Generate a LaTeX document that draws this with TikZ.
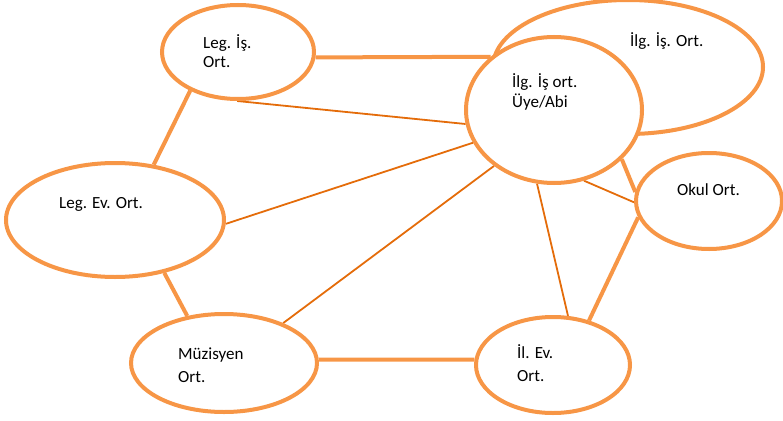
\documentclass[tikz,border=0pt]{standalone}
\usepackage{fontspec}
\setmainfont{Carlito}
\usetikzlibrary{shapes.geometric,backgrounds}
\definecolor{lightor}{HTML}{F79646}
\definecolor{darkor}{HTML}{E46C0A}
\tikzset{
  oval/.style={ellipse, draw=lightor, line width=4pt, fill=white, inner sep=0pt},
  thickline/.style={draw=lightor, line width=4pt},
  thinline/.style={draw=darkor, line width=1.8pt},
  lbl/.style={anchor=base west, align=left, inner sep=0pt, text=black}
}
\begin{document}
\begin{tikzpicture}[x=1pt,y=-1pt]
\useasboundingbox (0,0) rectangle (783,420);
% ellipses
\node[oval, minimum width=270pt, minimum height=134pt] (ilgis) at (628,67) {};
\node[oval, minimum width=176pt, minimum height=146pt] (uye) at (554,110) {};
\node[oval, minimum width=152pt, minimum height=94pt] (legis) at (238,52) {};
\node[oval, minimum width=146pt, minimum height=96pt] (okul) at (709,201) {};
\node[oval, minimum width=218pt, minimum height=114pt] (legev) at (115,220) {};
\node[oval, minimum width=186pt, minimum height=98pt] (muz) at (224,363) {};
\node[oval, minimum width=154pt, minimum height=96pt] (ilev) at (553,365) {};
% texts (anchor = baseline of last line)
\node[lbl, font=\fontsize{17}{19}\selectfont] (legis-t) at (203,67) {Leg. İş.\\Ort.};
\node[lbl, font=\fontsize{17}{20}\selectfont] (ilgis-t) at (630,47) {İlg. İş. Ort.};
\node[lbl, font=\fontsize{17}{20}\selectfont] (uye-t) at (512,107) {İlg. İş ort.\\Üye/Abi};
\node[lbl, font=\fontsize{17}{20}\selectfont] (okul-t) at (677,195) {Okul Ort.};
\node[lbl, font=\fontsize{17}{20}\selectfont] (legev-t) at (59,208) {Leg. Ev. Ort.};
\node[lbl, font=\fontsize{17}{23}\selectfont] (muz-t) at (178,382) {Müzisyen\\Ort.};
\node[lbl, font=\fontsize{17}{23}\selectfont] (ilev-t) at (517,381) {İl. Ev.\\Ort.};
% connectors
\begin{scope}[on background layer]
\draw[thickline] (legis.-4.5) -- (uye.140);
\draw[thickline] (legis.219.6) -- (legev.55.4);
\draw[thickline] (legev.-47.3) -- (muz.128.8);
\draw[thickline] (muz.2) -- (ilev.176);
\draw[thickline] (ilev.51.5) -- (okul.193.7);
\draw[thickline] (uye.-36.6) -- (okul.173.7);
\draw[thinline] (legis.-91) -- (uye.189.2);
\draw[thinline] (legev.-2) -- (uye.202);
\draw[thinline] (muz.34) -- (uye.223.5);
\draw[thinline] (uye.-103) -- (ilev.73.7);
\draw[thinline] (uye.-67.8) -- (okul.181.5);
\end{scope}
\end{tikzpicture}
\end{document}
